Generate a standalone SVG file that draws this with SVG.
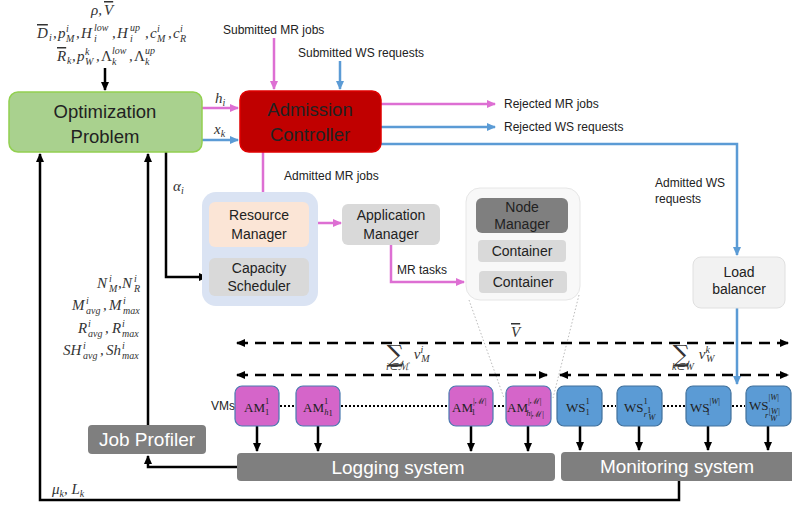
<svg xmlns="http://www.w3.org/2000/svg" width="792" height="507" viewBox="0 0 792 507">
<defs>
<style>
.m{font-family:"Liberation Serif",serif;font-style:italic;font-size:15px;fill:#333}
.mu{font-family:"Liberation Serif",serif;font-size:15px;fill:#333}
.s{font-family:"Liberation Serif",serif;font-style:italic;font-size:10px;fill:#333}
.ov{text-decoration:overline}
.sig{font-family:"DejaVu Serif",serif;font-size:24px;fill:#333}
.lbl{font-family:"Liberation Sans",Arial,sans-serif;font-size:12px;fill:#222}
.bt{font-family:"Liberation Sans",Arial,sans-serif;font-size:14px;fill:#222;text-anchor:middle}
.big{font-family:"Liberation Sans",Arial,sans-serif;font-size:18.5px;fill:#222;text-anchor:middle}
.wt{font-family:"Liberation Sans",Arial,sans-serif;font-size:19px;fill:#fff;text-anchor:middle}
.vm{font-family:"Liberation Serif",serif;font-size:13px;fill:#222}
.vs{font-family:"Liberation Serif",serif;font-size:8.5px;fill:#222}
.vi{font-family:"Liberation Serif",serif;font-style:italic;font-size:8.5px;fill:#222}
.am{fill:#d565c9;stroke:#4a7ab0;stroke-width:1.2}
.ws{fill:#5b9bd5;stroke:#41719c;stroke-width:1.2}
.pk{stroke:#dd6fd3;stroke-width:2.5;fill:none}
.bl{stroke:#5b9bd5;stroke-width:2.5;fill:none}
.bk{stroke:#000;stroke-width:2.5;fill:none}
.ds{stroke:#000;stroke-width:2.5;fill:none;stroke-dasharray:11 7}
.dot{stroke:#000;stroke-width:1.8;stroke-dasharray:2 2}
.gd{stroke:#bbb;stroke-width:1;stroke-dasharray:1.5 2;fill:none}
.gray{fill:#7f7f7f}
</style>
<marker id="ap" markerWidth="10" markerHeight="10" refX="8" refY="5" orient="auto-start-reverse" markerUnits="userSpaceOnUse"><path d="M0,1 L9,5 L0,9 Z" fill="#dd6fd3"/></marker>
<marker id="ab" markerWidth="10" markerHeight="10" refX="8" refY="5" orient="auto-start-reverse" markerUnits="userSpaceOnUse"><path d="M0,1 L9,5 L0,9 Z" fill="#5b9bd5"/></marker>
<marker id="ak" markerWidth="10" markerHeight="10" refX="8" refY="5" orient="auto-start-reverse" markerUnits="userSpaceOnUse"><path d="M0,1 L9,5 L0,9 Z" fill="#000"/></marker>
</defs>
<rect width="792" height="507" fill="#fff"/>

<g id="params">
<text x="91" y="15" class="m">ρ,</text><text x="104" y="15" class="m ov" font-size="16">V</text>
<text x="37" y="38" class="m ov">D</text><text x="49" y="41" class="s">i</text><text x="53" y="38" class="m">,</text>
<text x="58" y="38" class="m">p</text><text x="66" y="32" class="s">i</text><text x="66" y="42" class="s">M</text><text x="76" y="38" class="m">,</text>
<text x="81" y="38" class="m">H</text><text x="94" y="31" class="s">low</text><text x="94" y="42" class="s">i</text><text x="112" y="38" class="m">,</text>
<text x="117" y="38" class="m">H</text><text x="130" y="31" class="s">up</text><text x="130" y="42" class="s">i</text><text x="145" y="38" class="m">,</text>
<text x="150" y="38" class="m">c</text><text x="157" y="32" class="s">i</text><text x="157" y="42" class="s">M</text><text x="168" y="38" class="m">,</text>
<text x="173" y="38" class="m">c</text><text x="180" y="32" class="s">i</text><text x="180" y="42" class="s">R</text>
<text x="57" y="61" class="m ov">R</text><text x="67" y="64" class="s">k</text><text x="72" y="61" class="m">,</text>
<text x="77" y="61" class="m">p</text><text x="85" y="55" class="s">k</text><text x="85" y="65" class="s">W</text><text x="96" y="61" class="m">,</text>
<text x="101" y="61" class="mu">Λ</text><text x="112" y="54" class="s">low</text><text x="112" y="65" class="s">k</text><text x="129" y="61" class="m">,</text>
<text x="134" y="61" class="mu">Λ</text><text x="145" y="54" class="s">up</text><text x="145" y="65" class="s">k</text>
</g>

<g id="profile-params">
<text x="97" y="288" class="m">N</text><text x="109" y="282" class="s">i</text><text x="109" y="292" class="s">M</text><text x="118" y="288" class="m">,</text>
<text x="122" y="288" class="m">N</text><text x="134" y="282" class="s">i</text><text x="134" y="292" class="s">R</text>
<text x="72" y="310" class="m">M</text><text x="86" y="304" class="s">i</text><text x="86" y="314" class="s">avg</text><text x="103" y="310" class="m">,</text>
<text x="109" y="310" class="m">M</text><text x="123" y="304" class="s">i</text><text x="123" y="314" class="s">max</text>
<text x="78" y="333" class="m">R</text><text x="88" y="327" class="s">i</text><text x="88" y="337" class="s">avg</text><text x="105" y="333" class="m">,</text>
<text x="112" y="333" class="m">R</text><text x="122" y="327" class="s">i</text><text x="122" y="337" class="s">max</text>
<text x="63" y="355" class="m">SH</text><text x="83" y="349" class="s">i</text><text x="83" y="359" class="s">avg</text><text x="100" y="355" class="m">,</text>
<text x="106" y="355" class="m">Sh</text><text x="122" y="349" class="s">i</text><text x="122" y="359" class="s">max</text>
</g>

<g id="connectors">
<line x1="105" y1="68" x2="105" y2="90" class="bk" marker-end="url(#ak)"/>
<line x1="274" y1="38" x2="274" y2="89" class="pk" marker-end="url(#ap)"/>
<line x1="340" y1="61" x2="340" y2="89" class="bl" marker-end="url(#ab)"/>
<line x1="202" y1="108" x2="238" y2="108" class="pk" marker-end="url(#ap)"/>
<line x1="202" y1="140" x2="238" y2="140" class="bl" marker-end="url(#ab)"/>
<line x1="381" y1="104" x2="495" y2="104" class="pk" marker-end="url(#ap)"/>
<line x1="381" y1="127" x2="495" y2="127" class="bl" marker-end="url(#ab)"/>
<polyline points="381,144 737,144 737,255" class="bl" marker-end="url(#ab)"/>
<line x1="737" y1="308" x2="737" y2="384" class="bl" marker-end="url(#ab)"/>
<line x1="263" y1="152" x2="263" y2="200" class="pk" marker-end="url(#ap)"/>
<line x1="309" y1="223" x2="341" y2="223" class="pk" marker-end="url(#ap)"/>
<polyline points="391,245 391,282 464,282" class="pk" marker-end="url(#ap)"/>
<polyline points="166,152 166,277 207,277" class="bk" marker-end="url(#ak)"/>
<line x1="148" y1="425" x2="148" y2="154" class="bk" marker-end="url(#ak)"/>
<polyline points="237,467 148,467 148,456" class="bk" marker-end="url(#ak)"/>
<polyline points="679,481 679,500 40,500 40,154" class="bk" marker-end="url(#ak)"/>
<line x1="469" y1="300" x2="504" y2="398" class="gd"/>
<line x1="579" y1="295" x2="553" y2="398" class="gd"/>
<line x1="237" y1="343" x2="788" y2="343" class="ds" marker-start="url(#ak)" marker-end="url(#ak)"/>
<line x1="237" y1="375" x2="547" y2="375" class="ds" marker-start="url(#ak)" marker-end="url(#ak)"/>
<line x1="560" y1="375" x2="788" y2="375" class="ds" marker-start="url(#ak)" marker-end="url(#ak)"/>
<line x1="257" y1="426" x2="257" y2="451" class="bk" marker-end="url(#ak)"/>
<line x1="318" y1="426" x2="318" y2="451" class="bk" marker-end="url(#ak)"/>
<line x1="471" y1="426" x2="471" y2="451" class="bk" marker-end="url(#ak)"/>
<line x1="528" y1="426" x2="528" y2="451" class="bk" marker-end="url(#ak)"/>
<line x1="580" y1="426" x2="580" y2="450" class="bk" marker-end="url(#ak)"/>
<line x1="639" y1="426" x2="639" y2="450" class="bk" marker-end="url(#ak)"/>
<line x1="708" y1="426" x2="708" y2="450" class="bk" marker-end="url(#ak)"/>
<line x1="768" y1="426" x2="768" y2="450" class="bk" marker-end="url(#ak)"/>
<line x1="280" y1="406" x2="294" y2="406" class="dot"/>
<line x1="341" y1="406" x2="447" y2="406" class="dot"/>
<line x1="494" y1="406" x2="504" y2="406" class="dot"/>
<line x1="603" y1="406" x2="616" y2="406" class="dot"/>
<line x1="663" y1="406" x2="685" y2="406" class="dot"/>
<line x1="732" y1="406" x2="745" y2="406" class="dot"/>
</g>

<g id="connector-labels">
<text x="223" y="34" class="lbl">Submitted MR jobs</text>
<text x="298" y="57" class="lbl">Submitted WS requests</text>
<text x="215" y="103" class="m">h<tspan class="s" dy="3">i</tspan></text>
<text x="214" y="134" class="m">x<tspan class="s" dy="3">k</tspan></text>
<text x="504" y="108" class="lbl">Rejected MR jobs</text>
<text x="504" y="131" class="lbl">Rejected WS requests</text>
<text x="284" y="180" class="lbl">Admitted MR jobs</text>
<text x="655" y="187" class="lbl">Admitted WS</text>
<text x="655" y="203" class="lbl">requests</text>
<text x="173" y="191" class="m">α<tspan class="s" dy="3">i</tspan></text>
<text x="397" y="274" class="lbl">MR tasks</text>
<text x="52" y="494" class="m">μ<tspan class="s" dy="3">k</tspan><tspan dy="-3">, L</tspan><tspan class="s" dy="3">k</tspan></text>
<text x="511" y="337" class="m ov" font-size="19">V</text>
<text x="386" y="362" class="sig">∑<tspan class="s" font-size="8" dx="-18" dy="8">i∈ℳ</tspan><tspan class="m" font-size="13" dx="5" dy="-11">v</tspan><tspan class="s" font-size="8" dy="-6">i</tspan><tspan class="s" font-size="8" dx="-2" dy="9">M</tspan></text>
<text x="672" y="362" class="sig">∑<tspan class="s" font-size="8" dx="-18" dy="8">k∈W</tspan><tspan class="m" font-size="13" dx="5" dy="-11">v</tspan><tspan class="s" font-size="8" dy="-6">k</tspan><tspan class="s" font-size="8" dx="-4" dy="9">W</tspan></text>
<text x="211" y="410" class="lbl" font-size="11.5">VMs</text>
</g>

<g id="optimization-problem">
<rect x="9" y="92" width="193" height="60" rx="9" fill="#a9d18e" stroke="#92d050" stroke-width="1.5"/>
<text x="105" y="118" class="big">Optimization</text>
<text x="105" y="143" class="big">Problem</text>
</g>

<g id="admission-controller">
<rect x="240" y="91" width="141" height="61" rx="9" fill="#c00000" stroke="#e00000" stroke-width="1.5"/>
<text x="310" y="116" class="big">Admission</text>
<text x="310" y="141" class="big">Controller</text>
</g>

<g id="yarn-rm">
<rect x="202" y="192" width="116" height="114" rx="14" fill="#dae3f3"/>
<g id="resource-manager">
<rect x="209" y="202" width="100" height="45" rx="6" fill="#fbe5d6"/>
<text x="259" y="220" class="bt">Resource</text>
<text x="259" y="239" class="bt">Manager</text>
</g>
<g id="capacity-scheduler">
<rect x="209" y="258" width="100" height="38" rx="6" fill="#d9d9d9"/>
<text x="259" y="273" class="bt">Capacity</text>
<text x="259" y="291" class="bt">Scheduler</text>
</g>
</g>

<g id="application-manager">
<rect x="342" y="204" width="98" height="41" rx="6" fill="#d9d9d9"/>
<text x="391" y="220" class="bt">Application</text>
<text x="391" y="239" class="bt">Manager</text>
</g>

<g id="node">
<rect x="466" y="188" width="114" height="112" rx="14" fill="#f8f8f8" stroke="#e6e6e6" stroke-width="1"/>
<g id="node-manager">
<rect x="476" y="198" width="92" height="35" rx="6" fill="#7f7f7f"/>
<text x="522" y="212" class="bt">Node</text>
<text x="522" y="229" class="bt">Manager</text>
</g>
<g id="container-1">
<rect x="478" y="240" width="88" height="22" rx="4" fill="#d9d9d9"/>
<text x="522" y="256" class="bt">Container</text>
</g>
<g id="container-2">
<rect x="479" y="271" width="88" height="22" rx="4" fill="#d9d9d9"/>
<text x="523" y="287" class="bt">Container</text>
</g>
</g>

<g id="load-balancer">
<rect x="693" y="257" width="92" height="51" rx="8" fill="#f2f2f2" stroke="#e0e0e0"/>
<text x="739" y="277" class="bt">Load</text>
<text x="739" y="294" class="bt">balancer</text>
</g>

<g id="vm-am-1-1"><rect x="235" y="386" width="44" height="40" rx="7" class="am"/>
<text x="244" y="412" class="vm">AM<tspan class="vs" dy="-8">1</tspan><tspan class="vs" dx="-4" dy="11">1</tspan></text></g>
<g id="vm-am-1-h1"><rect x="296" y="386" width="44" height="40" rx="7" class="am"/>
<text x="303" y="412" class="vm">AM<tspan class="vs" dy="-8">1</tspan><tspan class="vi" dx="-4" dy="11">h</tspan><tspan class="vs" font-size="6" dy="1">1</tspan></text></g>
<g id="vm-am-m-1"><rect x="449" y="386" width="44" height="40" rx="7" class="am"/>
<text x="452" y="412" class="vm">AM<tspan class="vs" dy="-8">|ℳ|</tspan><tspan class="vs" dx="-15" dy="11">1</tspan></text></g>
<g id="vm-am-m-hm"><rect x="506" y="386" width="45" height="40" rx="7" class="am"/>
<text x="507" y="412" class="vm">AM<tspan class="vs" dy="-8">|ℳ|</tspan><tspan class="vi" dx="-15" dy="12">h</tspan><tspan class="vs" font-size="6" dy="1">|ℳ|</tspan></text></g>
<g id="vm-ws-1-1"><rect x="557" y="386" width="45" height="40" rx="7" class="ws"/>
<text x="566" y="412" class="vm">WS<tspan class="vs" dy="-8">1</tspan><tspan class="vs" dx="-4" dy="11">1</tspan></text></g>
<g id="vm-ws-1-r"><rect x="617" y="386" width="45" height="40" rx="7" class="ws"/>
<text x="624" y="412" class="vm">WS<tspan class="vs" dy="-8">1</tspan><tspan class="vi" dx="-4" dy="13">r</tspan><tspan class="vs" font-size="6" dy="-4">1</tspan><tspan class="vi" font-size="6" dx="-3" dy="7">W</tspan></text></g>
<g id="vm-ws-w-1"><rect x="686" y="386" width="45" height="40" rx="7" class="ws"/>
<text x="690" y="412" class="vm">WS<tspan class="vs" dy="-8">|</tspan><tspan class="vi">W</tspan><tspan class="vs">|</tspan><tspan class="vs" dx="-14" dy="11">1</tspan></text></g>
<g id="vm-ws-w-r"><rect x="746" y="386" width="45" height="40" rx="7" class="ws"/>
<text x="749" y="410" class="vm">WS<tspan class="vs" dy="-10">|</tspan><tspan class="vi">W</tspan><tspan class="vs">|</tspan><tspan class="vi" dx="-14" dy="18">r</tspan><tspan class="vi" font-size="6" dy="-4">|W|</tspan><tspan class="vi" font-size="6" dx="-10" dy="7">W</tspan></text></g>

<g id="job-profiler">
<rect x="88" y="425" width="118" height="29" rx="4" class="gray"/>
<text x="147" y="446" class="wt" font-size="19.5">Job Profiler</text>
</g>
<g id="logging-system">
<rect x="237" y="453" width="318" height="28" rx="4" class="gray"/>
<text x="398" y="474" class="wt">Logging system</text>
</g>
<g id="monitoring-system">
<rect x="561" y="452" width="240" height="29" rx="4" class="gray"/>
<text x="677" y="473" class="wt">Monitoring system</text>
</g>
</svg>
